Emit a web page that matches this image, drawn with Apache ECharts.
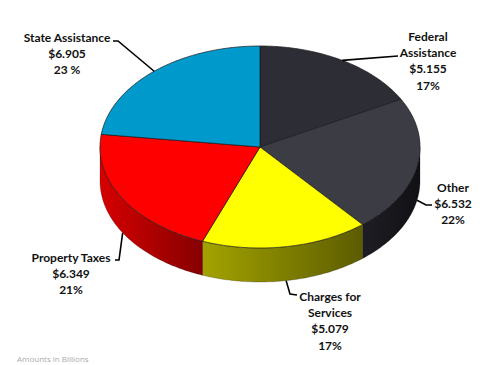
<!DOCTYPE html>
<html>
<head>
<meta charset="utf-8">
<script src="https://cdn.jsdelivr.net/npm/echarts@6/dist/echarts.min.js"></script>
<style>html,body{margin:0;padding:0;background:#fff;}#c{width:500px;height:365px;}</style>
</head>
<body>
<div id="c"></div>
<script>
// ---- data ----
var categories = ['Federal Assistance', 'Other', 'Charges for Services', 'Property Taxes', 'State Assistance'];
var amounts = [5.155, 6.532, 5.079, 6.349, 6.905];
var percentLabels = ['17%', '22%', '17%', '21%', '23 %'];
var labelLines = [
  ['Federal', 'Assistance', '$5.155', '17%'],
  ['Other', '$6.532', '22%'],
  ['Charges for', 'Services', '$5.079', '17%'],
  ['Property Taxes', '$6.349', '21%'],
  ['State Assistance', '$6.905', '23 %']
];

// ---- styling / layout ----
var topColors = ['#2d2d36', '#3c3c45', '#ffff00', '#ff0000', '#0099cc'];
var sideColors = [['#1a1a20', '#111115'], ['#1d1d23', '#111115'], ['#a3a300', '#5c5c00'], ['#d60000', '#860000'], ['#0080aa', '#005577']];
var geo = { cx: 260, cy: 147, rx: 160, ry: 101, depth: 34 };
// label text center x, top y, and leader path (elbow points after the anchor)
var labelLayout = [
  { x: 428, y: 28, path: [[398, 56]] },
  { x: 453, y: 179, path: [[426, 205], [432, 205]] },
  { x: 330, y: 288, path: [[290, 294], [297, 295]] },
  { x: 71, y: 249, path: [[119, 260], [115, 260]] },
  { x: 67, y: 29, path: [[118, 41], [113, 41]] }
];
var FONT = 'bold 12px Lato, "Open Sans", sans-serif';

var total = amounts.reduce(function (a, b) { return a + b; }, 0);
var starts = [], acc = 0;
amounts.forEach(function (v) { starts.push(acc / total * 360); acc += v; });

function pt(deg, dy) {
  var r = deg * Math.PI / 180;
  return [geo.cx + geo.rx * Math.sin(r), geo.cy - geo.ry * Math.cos(r) + (dy || 0)];
}
function arc(a, b, dy) {
  var pts = [], n = Math.max(2, Math.ceil(Math.abs(b - a)));
  for (var i = 0; i <= n; i++) pts.push(pt(a + (b - a) * i / n, dy));
  return pts;
}

var chart = echarts.init(document.getElementById('c'), null, { renderer: 'svg' });
var data = amounts.map(function (v, i) { return { name: categories[i], value: v }; });

chart.setOption({
  animation: false,
  series: [
    {
      type: 'custom',
      coordinateSystem: 'none',
      z: 1,
      data: data,
      renderItem: function (params, api) {
        var i = params.dataIndex;
        var a = starts[i], b = a + api.value(0) / total * 360;
        var lo = Math.max(a, 90), hi = Math.min(b, 270);
        if (hi <= lo) return { type: 'group', children: [] };
        var top = arc(lo, hi, 0), bottom = arc(hi, lo, geo.depth);
        var x0 = pt(lo)[0], x1 = pt(hi)[0];
        return {
          type: 'polygon',
          shape: { points: top.concat(bottom) },
          style: {
            fill: new echarts.graphic.LinearGradient(Math.min(x0, x1), 0, Math.max(x0, x1), 0, [
              { offset: 0, color: sideColors[i][0] }, { offset: 1, color: sideColors[i][1] }
            ], true),
            stroke: 'rgba(0,0,0,0.35)', lineWidth: 0.6
          }
        };
      }
    },
    {
      type: 'custom',
      coordinateSystem: 'none',
      z: 2,
      data: data,
      renderItem: function (params, api) {
        var i = params.dataIndex;
        var a = starts[i], b = a + api.value(0) / total * 360;
        var pts = [[geo.cx, geo.cy]].concat(arc(a, b, 0));
        var mid = (a + b) / 2;
        var onFront = mid > 90 && mid < 270;
        var anchor = pt(mid, onFront ? geo.depth : 0);
        var L = labelLayout[i];
        return {
          type: 'group',
          children: [
            { type: 'polygon', shape: { points: pts }, style: { fill: topColors[i], stroke: '#1a1a1a', lineWidth: 0.7 } },
            { type: 'polyline', shape: { points: [anchor].concat(L.path) }, style: { fill: null, stroke: '#000', lineWidth: 1.6 } },
            { type: 'text', x: L.x, y: L.y, style: { text: labelLines[i].join('\n'), font: FONT, fill: '#111', align: 'center', verticalAlign: 'top', lineHeight: 16.3 } }
          ]
        };
      }
    }
  ],
  graphic: [
    { type: 'text', left: 17, top: 354, style: { text: 'Amounts in Billions', font: '8px "Open Sans", sans-serif', fill: '#aaa' } }
  ]
});
</script>
</body>
</html>
